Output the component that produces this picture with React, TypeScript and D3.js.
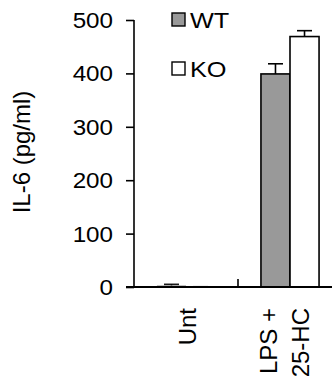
import React, { useEffect, useRef } from 'react';
import * as d3 from 'd3';

const groups = ['Unt', 'LPS'];
const groupLabels = [['Unt'], ['LPS +', '25-HC']];
const series = ['WT', 'KO'];
const seriesColors = ['#999999', '#ffffff'];
const wtValues = [3, 399];
const wtErrors = [2, 19];
const koValues = [0.5, 469];
const koErrors = [0.5, 11];
const yTicks = [0, 100, 200, 300, 400, 500];

const App = () => {
  const svgRef = useRef<SVGSVGElement>(null);

  useEffect(() => {
    const svg = d3.select(svgRef.current);
    svg.selectAll('*').remove();

    const width = 332;
    const height = 379;
    const font = 'Arial, "Liberation Sans", sans-serif';

    const x0 = d3.scaleBand().domain(groups).range([134, 342]).paddingInner(0).paddingOuter(0);
    const x1 = d3.scaleBand().domain(series).range([0, x0.bandwidth()]).paddingInner(0).paddingOuter(0.79);
    const y = d3.scaleLinear().domain([0, 500]).range([287, 20]);

    const rows = groups.flatMap((g, i) => [
      { g, s: 'WT', v: wtValues[i], e: wtErrors[i], c: seriesColors[0] },
      { g, s: 'KO', v: koValues[i], e: koErrors[i], c: seriesColors[1] },
    ]);

    // bars
    svg.append('g')
      .selectAll('rect')
      .data(rows)
      .enter()
      .append('rect')
      .attr('x', d => x0(d.g)! + x1(d.s)!)
      .attr('y', d => y(d.v))
      .attr('width', x1.bandwidth())
      .attr('height', d => y(0) - y(d.v))
      .attr('fill', d => d.c)
      .attr('stroke', d => (d.v > 5 ? '#000' : 'none'))
      .attr('stroke-width', 1.6);

    // error bars (upper only)
    const eb = svg.append('g').attr('stroke', '#000').attr('stroke-width', 1.6);
    rows.forEach(d => {
      const cx = x0(d.g)! + x1(d.s)! + x1.bandwidth() / 2;
      const op = d.v > 5 ? 1 : d.s === 'WT' ? 0.9 : 0.15;
      eb.append('line').attr('x1', cx).attr('x2', cx).attr('y1', y(d.v)).attr('y2', y(d.v + d.e)).attr('opacity', op);
      eb.append('line').attr('x1', cx - 7.5).attr('x2', cx + 7.5).attr('y1', y(d.v + d.e)).attr('y2', y(d.v + d.e)).attr('opacity', op);
    });

    // y axis
    const yAxis = svg.append('g')
      .attr('transform', 'translate(134,0)')
      .call(d3.axisLeft(y).tickValues(yTicks).tickSize(8).tickFormat(() => ''));
    yAxis.select('.domain').attr('d', `M0,${y(500)}V${y(0)}`).attr('stroke-width', 1.6);
    yAxis.selectAll('.tick line').attr('stroke-width', 1.6);

    svg.append('g')
      .selectAll('text')
      .data(yTicks)
      .enter()
      .append('text')
      .attr('transform', d => `translate(113,${y(d) + 8}) scale(1.1,1)`)
      .attr('text-anchor', 'end')
      .attr('font-size', 22)
      .attr('font-family', font)
      .text(d => d3.format('d')(d));

    // x axis
    svg.append('line')
      .attr('x1', 126).attr('x2', width)
      .attr('y1', y(0)).attr('y2', y(0))
      .attr('stroke', '#000').attr('stroke-width', 1.8);
    svg.append('line')
      .attr('x1', x0('LPS')!).attr('x2', x0('LPS')!)
      .attr('y1', y(0) - 8).attr('y2', y(0))
      .attr('stroke', '#000').attr('stroke-width', 1.6);

    // category labels
    const baseShift = [[10], [-13, 19]];
    groupLabels.forEach((lines, i) => {
      const cx = x0(groups[i])! + x0.bandwidth() / 2;
      lines.forEach((t, j) => {
        svg.append('text')
          .attr('transform', `translate(${cx + baseShift[i][j]},308) rotate(-90)`)
          .attr('text-anchor', 'end')
          .attr('font-size', 24)
          .attr('font-family', font)
          .text(t);
      });
    });

    // y label
    svg.append('text')
      .attr('transform', `translate(30,152) rotate(-90)`)
      .attr('text-anchor', 'middle')
      .attr('font-size', 24)
      .attr('font-family', font)
      .text('IL-6 (pg/ml)');

    // legend
    series.forEach((s, i) => {
      const ly = 13 + i * 49;
      svg.append('rect')
        .attr('x', 172).attr('y', ly)
        .attr('width', 13).attr('height', 13)
        .attr('fill', seriesColors[i])
        .attr('stroke', '#000').attr('stroke-width', 1.4);
      svg.append('text')
        .attr('transform', `translate(190,${ly + 14.5}) scale(1.15,1)`)
        .attr('font-size', 22)
        .attr('font-family', font)
        .text(s);
    });

    svg.attr('viewBox', `0 0 ${width} ${height}`);
  }, []);

  return (
    <svg
      ref={svgRef}
      width={332}
      height={379}
      style={{ position: 'absolute', left: 0, top: 0, background: '#fff' }}
    />
  );
};

export default App;
